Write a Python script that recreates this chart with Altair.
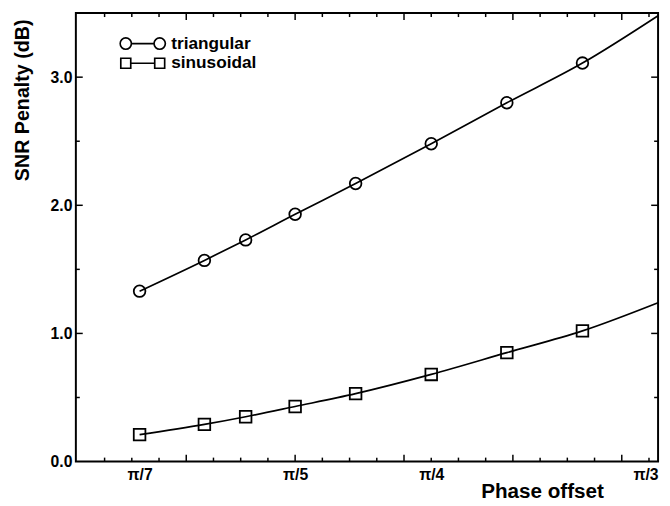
import altair as alt
import pandas as pd

# ---- data (phase offset in degrees, SNR penalty in dB) ----
series_names = ["triangular", "sinusoidal"]
phase_deg = [180 / 7, 30, 180 / 5.5, 36, 40, 45, 50, 55]
triangular = [1.33, 1.57, 1.73, 1.93, 2.17, 2.48, 2.80, 3.11]
sinusoidal = [0.21, 0.29, 0.35, 0.43, 0.53, 0.68, 0.85, 1.02]
curve_end_deg = 60
triangular_end = 3.48
sinusoidal_end = 1.24

# ---- axis ticks / labels ----
x_label_values = [180 / 7, 36, 45, 60]
x_label_texts = ["π/7", "π/5", "π/4", "π/3"]
x_minor_ticks = [23.4, 25.2, 27.0, 30.6, 32.4, 34.2, 37.8, 39.6, 41.4,
                 45.0, 46.8, 48.6, 52.2, 54.0, 55.8, 59.4]
x_major_ticks = [28.8, 36.0, 43.2, 50.4, 57.6]
y_label_values = [0, 1, 2, 3]
y_major_ticks = [1, 2, 3]
y_minor_ticks = [0.5, 1.5, 2.5]

W, H = 592, 456
FONT = "Liberation Sans"
MINOR, MAJOR = 4, 7

rows = []
for name, vals, end in [("triangular", triangular, triangular_end),
                        ("sinusoidal", sinusoidal, sinusoidal_end)]:
    for d, v in zip(phase_deg, vals):
        rows.append({"series": name, "deg": d, "val": v, "marker": True})
    rows.append({"series": name, "deg": curve_end_deg, "val": end, "marker": False})
df = pd.DataFrame(rows)
pts = df[df["marker"]].copy()

xs = alt.Scale(domain=[21.5, 60], nice=False, zero=False)
ys = alt.Scale(domain=[0, 3.5], nice=False, zero=True)

lines = alt.Chart(df).mark_line(color="black", strokeWidth=1.7, interpolate="monotone").encode(
    x=alt.X("deg:Q", scale=xs, axis=None),
    y=alt.Y("val:Q", scale=ys, axis=None),
    detail="series:N",
)

points = alt.Chart(pts).mark_point(filled=False, color="black", strokeWidth=1.8, size=140, opacity=1).encode(
    x=alt.X("deg:Q", scale=xs, axis=None),
    y=alt.Y("val:Q", scale=ys, axis=None),
    shape=alt.Shape("series:N", scale=alt.Scale(domain=series_names, range=["circle", "square"]), legend=None),
)

# legend symbols: marker - line - marker
path_circle = ("M -1 0 A 0.25 0.25 0 1 1 -0.5 0 A 0.25 0.25 0 1 1 -1 0 Z "
               "M -0.5 0 L 0.5 0 "
               "M 0.5 0 A 0.25 0.25 0 1 1 1 0 A 0.25 0.25 0 1 1 0.5 0 Z")
path_square = ("M -0.97 -0.22 L -0.53 -0.22 L -0.53 0.22 L -0.97 0.22 Z "
               "M -0.53 0 L 0.53 0 "
               "M 0.53 -0.22 L 0.97 -0.22 L 0.97 0.22 L 0.53 0.22 Z")

legend_shape = alt.Shape(
    "series:N",
    scale=alt.Scale(domain=series_names, range=[path_circle, path_square]),
    legend=alt.Legend(
        orient="none", legendX=44, legendY=21, title=None, padding=0,
        symbolSize=2116, clipHeight=20, rowPadding=0,
        symbolStrokeColor="black", symbolFillColor="transparent",
        symbolStrokeWidth=1.7, symbolOpacity=1, labelOffset=5,
        labelFont=FONT, labelFontSize=17.5, labelFontWeight="bold", labelColor="black",
    ),
)

label_expr = ""
for v, t in zip(x_label_values[:-1], x_label_texts[:-1]):
    label_expr += f"abs(datum.value - {v}) < 0.5 ? '{t}' : "
label_expr += f"'{x_label_texts[-1]}'"

label_layer = alt.Chart(pts).mark_point(opacity=0, color="black", filled=False, strokeWidth=1.7).encode(
    x=alt.X("deg:Q", scale=xs, axis=alt.Axis(
        orient="bottom", values=x_label_values, labelExpr=label_expr, ticks=False,
        domain=False, grid=False, labelFont=FONT, labelFontSize=16, labelFontWeight="bold",
        labelColor="black", labelPadding=5, labelFlush=True, labelOverlap=False,
        title="Phase offset", titleFont=FONT, titleFontSize=21, titleFontWeight="bold",
        titleColor="black", titleX=474, titleY=37, titleAlign="center",
        titleBaseline="alphabetic")),
    y=alt.Y("val:Q", scale=ys, axis=alt.Axis(
        orient="left", values=y_label_values, format=".1f", ticks=False, domain=False,
        grid=False, labelFont=FONT, labelFontSize=16, labelFontWeight="bold",
        labelColor="black", labelPadding=4, labelOverlap=False,
        title="SNR Penalty (dB)", titleFont=FONT, titleFontSize=20, titleFontWeight="bold",
        titleColor="black", titleX=-54, titleY=6, titleAngle=270, titleAlign="right",
        titleBaseline="middle")),
    shape=legend_shape,
)


def x_ticks(values, length, at_top):
    base = alt.Chart(pd.DataFrame({"t": values})).mark_rule(color="black", strokeWidth=1.5)
    if at_top:
        return base.encode(x=alt.X("t:Q", scale=xs, axis=None), y=alt.value(0), y2=alt.value(length))
    return base.encode(x=alt.X("t:Q", scale=xs, axis=None), y=alt.value(H), y2=alt.value(H - length))


def y_ticks(values, length, at_right):
    base = alt.Chart(pd.DataFrame({"t": values})).mark_rule(color="black", strokeWidth=1.5)
    if at_right:
        return base.encode(y=alt.Y("t:Q", scale=ys, axis=None), x=alt.value(W), x2=alt.value(W - length))
    return base.encode(y=alt.Y("t:Q", scale=ys, axis=None), x=alt.value(0), x2=alt.value(length))


tick_layers = [
    x_ticks(x_minor_ticks, MINOR, False), x_ticks(x_major_ticks, MAJOR, False),
    x_ticks(x_minor_ticks, MINOR, True), x_ticks(x_major_ticks, MAJOR, True),
    y_ticks(y_minor_ticks, MINOR, False), y_ticks(y_major_ticks, MAJOR, False),
    y_ticks(y_minor_ticks, MINOR, True), y_ticks(y_major_ticks, MAJOR, True),
]

chart = (
    alt.layer(lines, points, label_layer, *tick_layers)
    .resolve_scale(shape="independent")
    .resolve_axis(x="independent", y="independent")
    .properties(width=W, height=H, padding={"left": 5, "top": 0, "right": 0, "bottom": 0},
                background="white")
    .configure_view(stroke="black", strokeWidth=2)
)

chart.save("out.html", embed_options={"renderer": "svg", "actions": False})
